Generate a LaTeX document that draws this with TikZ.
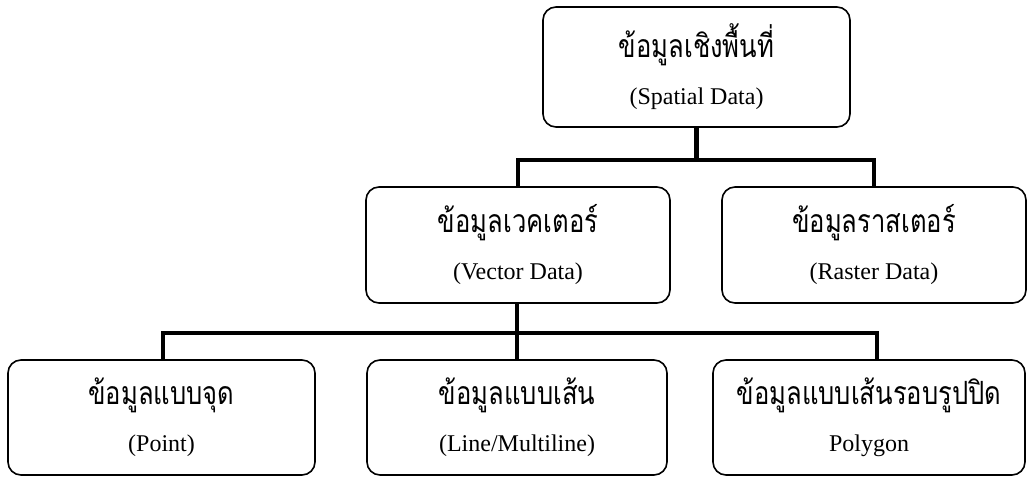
\documentclass[tikz,border=0pt]{standalone}
\usepackage{fontspec}
\setmainfont{Liberation Serif}
\newfontfamily\thaifont[Script=Thai,FakeStretch=0.8]{Loma}
\newcommand\thline[1]{{\thaifont\fontsize{32}{34}\selectfont #1}}
\newcommand\enline[1]{{\fontsize{24}{28}\selectfont #1}}
\begin{document}
\begin{tikzpicture}[x=1pt,y=-1pt,
  box/.style={draw, line width=1.6pt, rounded corners=13pt, align=center, inner sep=0pt,
    font=\fontsize{24}{47}\selectfont},
  conn/.style={line width=4.5pt, line join=miter}]
\useasboundingbox (0,0) rectangle (1031,479);
\fill[white] (0,0) rectangle (1031,479);
\node[box, minimum width=307pt, minimum height=120pt] (spatial) at (696.5,67)
  {\thline{ข้อมูลเชิงพื้นที่}\\\enline{(Spatial Data)}};
\node[box, minimum width=304pt, minimum height=116pt] (vector) at (518,245)
  {\thline{ข้อมูลเวคเตอร์}\\\enline{(Vector Data)}};
\node[box, minimum width=304pt, minimum height=116pt] (raster) at (874,245)
  {\thline{ข้อมูลราสเตอร์}\\\enline{(Raster Data)}};
\node[box, minimum width=307pt, minimum height=115pt] (point) at (161.5,417.5)
  {\thline{ข้อมูลแบบจุด}\\\enline{(Point)}};
\node[box, minimum width=300pt, minimum height=115pt] (line) at (517,417.5)
  {\thline{ข้อมูลแบบเส้น}\\\enline{(Line/Multiline)}};
\node[box, minimum width=312pt, minimum height=115pt] (polygon) at (869,417.5)
  {\thline{ข้อมูลแบบเส้นรอบรูปปิด}\\\enline{Polygon}};
\coordinate (j1) at (696.5,160);
\coordinate (j2) at (517,333);
\draw[conn] (spatial.south) -- (j1);
\draw[conn] (vector.north) |- (raster.north |- j1) -- (raster.north);
\draw[conn] (j2 |- vector.south) -- (line.north);
\draw[conn] ([xshift=1.5pt]point.north) |- ([xshift=8pt]polygon.north |- j2) -- ([xshift=8pt]polygon.north);
\end{tikzpicture}
\end{document}
